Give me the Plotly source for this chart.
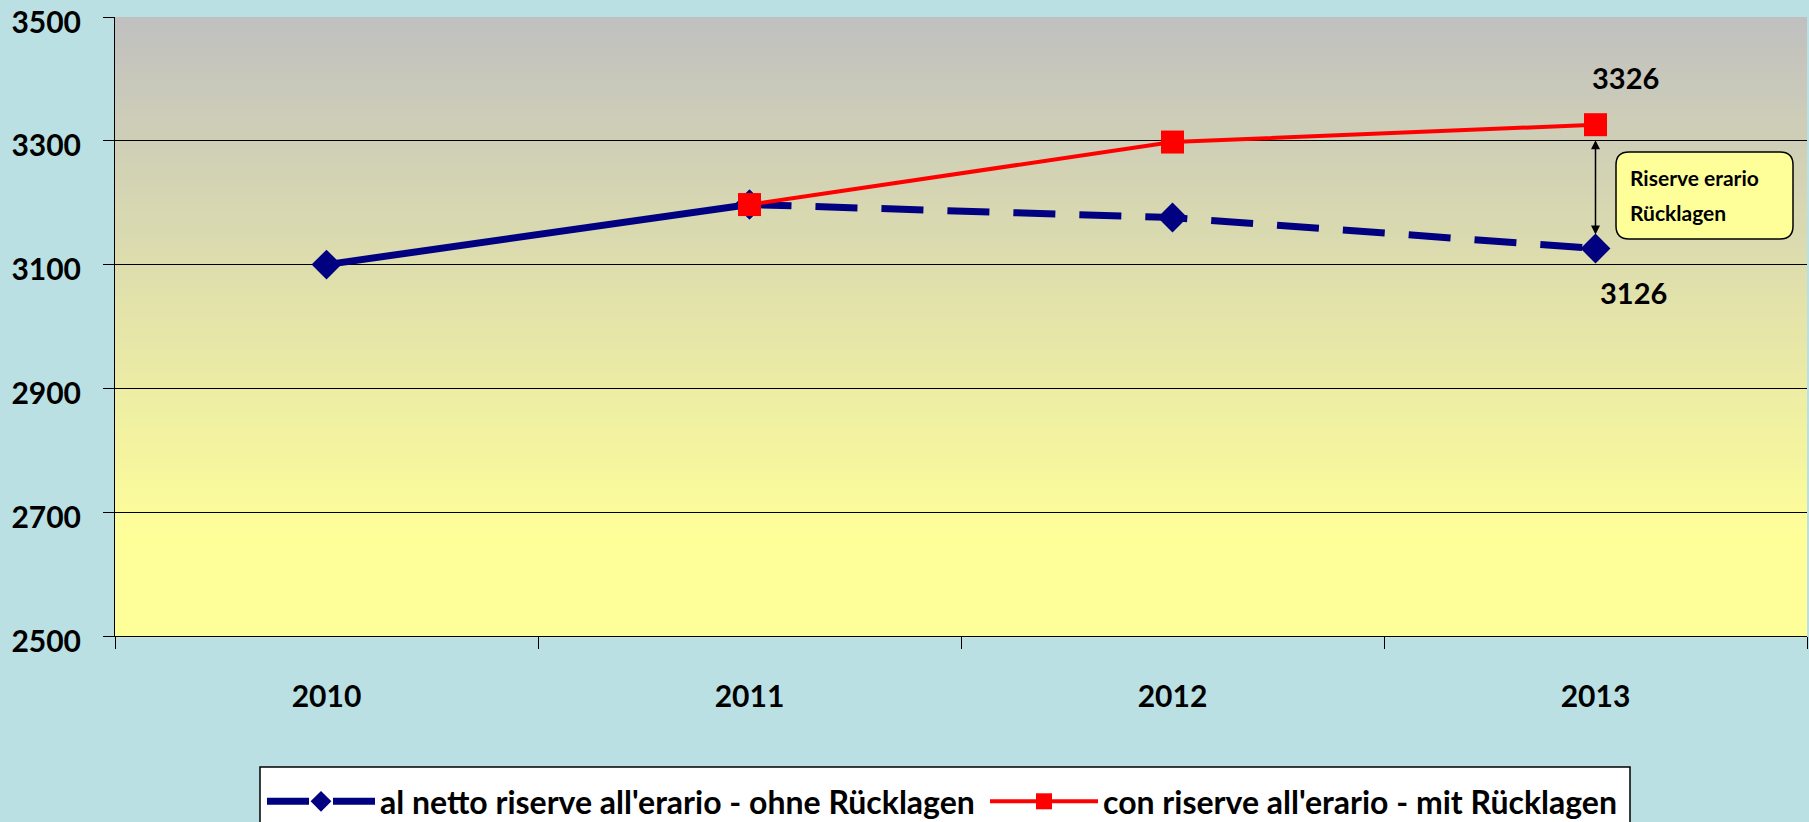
import plotly.graph_objects as go

years = ["2010", "2011", "2012", "2013"]
netto = [3100, 3197, 3176, 3126]          # al netto riserve all'erario - ohne Rücklagen
con = [None, 3197, 3298, 3326]             # con riserve all'erario - mit Rücklagen
y_ticks = [2500, 2700, 2900, 3100, 3300, 3500]
name_netto = "al netto riserve all'erario - ohne Rücklagen"
name_con = "con riserve all'erario - mit Rücklagen"
box_lines = ["Riserve erario", "Rücklagen"]

W, H = 1809, 822
L, R, T, B = 115, 2, 17, 186
PW, PH = W - L - R, H - T - B
FONT = "Lato"
NAVY = "#000080"
RED = "#FF0000"
last = len(years) - 1


def px(x):
    return (x - L) / PW


def py(y):
    return (H - B - y) / PH


fig = go.Figure()

# solid blue segment 2010-2011
fig.add_trace(go.Scatter(
    x=years[:2], y=netto[:2], mode="lines+markers", showlegend=False,
    line=dict(color=NAVY, width=7),
    marker=dict(symbol="diamond", size=23, color=NAVY),
    hoverinfo="skip"))
# dashed blue segment 2011-2013
fig.add_trace(go.Scatter(
    x=years[1:], y=netto[1:], mode="lines+markers", name=name_netto,
    line=dict(color=NAVY, width=7, dash="42px,24px"),
    marker=dict(symbol="diamond", size=23, color=NAVY)))
# red line
fig.add_trace(go.Scatter(
    x=years, y=con, mode="lines+markers", name=name_con,
    line=dict(color=RED, width=4),
    marker=dict(symbol="square", size=23, color=RED)))

# gradient background (gray top -> yellow bottom)
shapes = []
N = 80
top_c = (192, 192, 192)
bot_c = (255, 255, 153)
stop = 0.85
for i in range(N):
    f0 = i / N
    f1 = (i + 1) / N
    fm = min((f0 + f1) / 2 / stop, 1.0)
    c = tuple(round(top_c[k] + (bot_c[k] - top_c[k]) * fm) for k in range(3))
    shapes.append(dict(type="rect", xref="paper", yref="paper",
                       x0=0, x1=1, y0=1 - f1 - 0.002, y1=1 - f0,
                       fillcolor="rgb(%d,%d,%d)" % c, line=dict(width=0),
                       layer="below"))

# rounded callout box
bx0, bx1, by0, by1, r = 1616, 1793, 152, 239, 13
path = (f"M {px(bx0 + r)},{py(by0)} L {px(bx1 - r)},{py(by0)} "
        f"Q {px(bx1)},{py(by0)} {px(bx1)},{py(by0 + r)} "
        f"L {px(bx1)},{py(by1 - r)} Q {px(bx1)},{py(by1)} {px(bx1 - r)},{py(by1)} "
        f"L {px(bx0 + r)},{py(by1)} Q {px(bx0)},{py(by1)} {px(bx0)},{py(by1 - r)} "
        f"L {px(bx0)},{py(by0 + r)} Q {px(bx0)},{py(by0)} {px(bx0 + r)},{py(by0)} Z")
shapes.append(dict(type="path", xref="paper", yref="paper", path=path,
                   fillcolor="#FFFF99", line=dict(color="black", width=1.5),
                   layer="above"))

# legend frame
shapes.append(dict(type="rect", xref="paper", yref="paper",
                   x0=px(260), x1=px(1630), y0=py(830), y1=py(767),
                   fillcolor="white", line=dict(color="black", width=1.5),
                   layer="below"))

annotations = [
    dict(x=last, y=con[-1], text=str(con[-1]), showarrow=False,
         xshift=30, yshift=47, font=dict(family=FONT, size=29, color="black", weight="bold")),
    dict(x=last, y=netto[-1], text=str(netto[-1]), showarrow=False,
         xshift=38, yshift=-44, font=dict(family=FONT, size=29, color="black", weight="bold")),
    dict(x=last, y=netto[-1], ax=last, ay=con[-1], axref="x", ayref="y",
         text="", showarrow=True, arrowhead=2, arrowside="end+start",
         arrowsize=1.2, arrowwidth=1.5, arrowcolor="black",
         standoff=14, startstandoff=14),
    dict(xref="paper", yref="paper", x=px(1628), y=py(178), xanchor="left", yanchor="middle",
         text=box_lines[0], showarrow=False,
         font=dict(family=FONT, size=21, color="black", weight="bold")),
    dict(xref="paper", yref="paper", x=px(1628), y=py(213), xanchor="left", yanchor="middle",
         text=box_lines[1], showarrow=False,
         font=dict(family=FONT, size=21, color="black", weight="bold")),
]

fig.update_layout(
    width=W, height=H,
    margin=dict(l=L, r=R, t=T, b=B, pad=0, autoexpand=False),
    paper_bgcolor="#BAE0E3",
    plot_bgcolor="#FFFF99",
    shapes=shapes,
    annotations=annotations,
    font=dict(family=FONT, color="black"),
    legend=dict(orientation="h", x=px(262), xanchor="left", y=py(774), yanchor="top",
                bgcolor="rgba(0,0,0,0)", borderwidth=0,
                itemwidth=108, entrywidth=600,
                font=dict(family=FONT, size=32, color="black", weight="bold")),
    xaxis=dict(type="category", categoryorder="array", categoryarray=years,
               range=[-0.5, 3.5], showline=True, linecolor="black", linewidth=1,
               ticks="outside", tickson="boundaries", ticklen=12, tickcolor="black",
               showgrid=False, ticklabelstandoff=34,
               tickfont=dict(family=FONT, size=30, color="black", weight="bold")),
    yaxis=dict(range=[2500, 3500], tickvals=y_ticks, showline=True, linecolor="black",
               linewidth=1, ticks="outside", ticklen=11, tickcolor="black",
               showgrid=True, gridcolor="black", gridwidth=1, zeroline=False,
               ticklabelstandoff=16, ticklabeloverflow="allow", ticklabelshift=5,
               tickfont=dict(family=FONT, size=30, color="black", weight="bold")),
)

fig.write_html("out.html", config={"displayModeBar": False},
               post_script="document.body.style.margin='0';document.body.style.overflow='hidden';")
